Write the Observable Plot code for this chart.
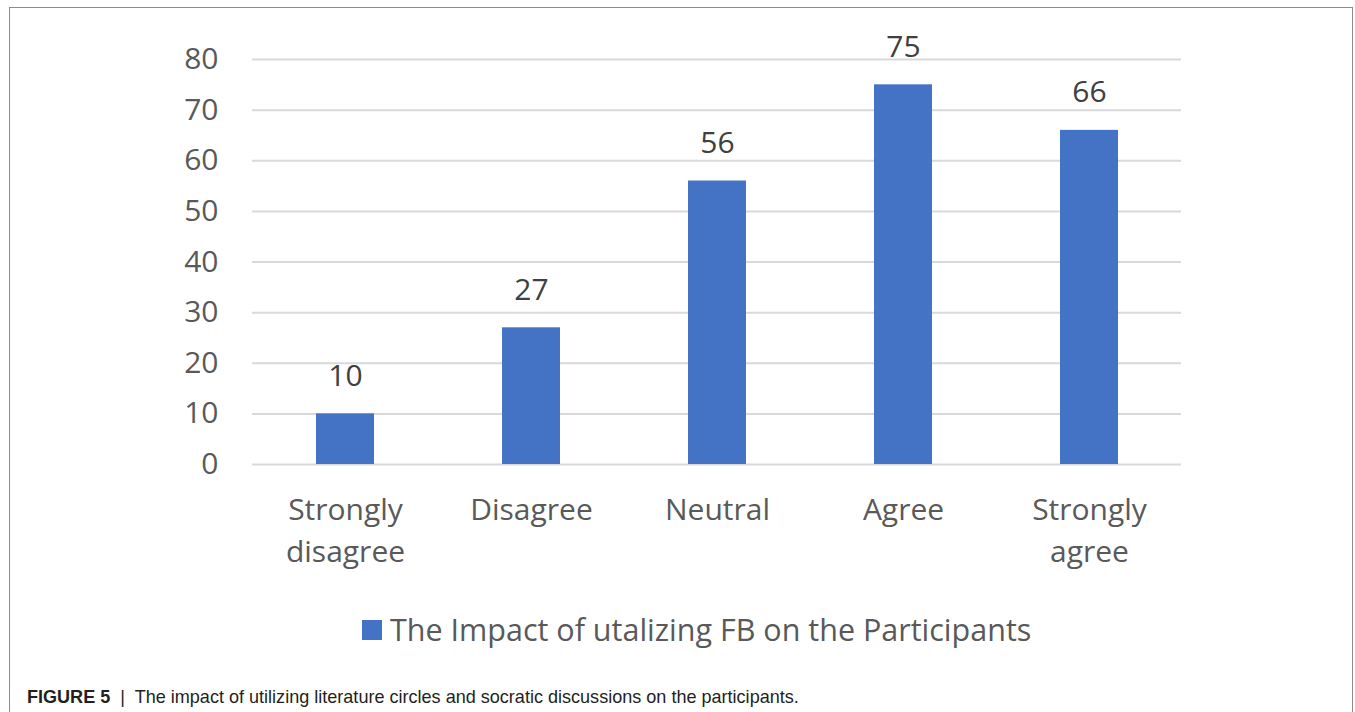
<!DOCTYPE html>
<html>
<head>
<meta charset="utf-8">
<script src="https://cdn.jsdelivr.net/npm/d3@7"></script>
<script src="https://cdn.jsdelivr.net/npm/@observablehq/plot@0.6"></script>
<style>
  html, body { margin: 0; padding: 0; background: #fff; width: 1355px; height: 712px; overflow: hidden; }
  #frame { position: absolute; left: 9px; top: 7px; width: 1344px; height: 760px; border: 1px solid #8c8c8c; box-sizing: border-box; }
  #chart { position: absolute; left: 0; top: 0; }
  #legend { position: absolute; left: 362px; top: 609px; height: 41px; font-family: "Open Sans", sans-serif; font-size: 30.5px; line-height: 41px; color: #595959; white-space: nowrap; }
  #legend .sw { position: absolute; left: 0; top: 11px; width: 20px; height: 20px; background: #4472C4; }
  #legend .lt { position: absolute; left: 28px; top: 0; }
  #caption { position: absolute; left: 27px; top: 686px; font-family: "Liberation Sans Narrow", "Arial Narrow", "Liberation Sans", sans-serif; font-size: 19px; line-height: 22px; color: #231f20; white-space: nowrap; transform: scaleX(0.95); transform-origin: 0 0; }
  #caption b { font-weight: bold; }
</style>
</head>
<body>
<div id="frame"></div>
<div id="chart"></div>
<div id="legend"><span class="sw"></span><span class="lt">The Impact of utalizing FB on the Participants</span></div>
<div id="caption"><b>FIGURE 5</b> &nbsp;|&nbsp; The impact of utilizing literature circles and socratic discussions on the participants.</div>
<script>
const categories = ["Strongly\ndisagree", "Disagree", "Neutral", "Agree", "Strongly\nagree"];
const values = [10, 27, 56, 75, 66];
const yTicks = [0, 10, 20, 30, 40, 50, 60, 70, 80];
const seriesName = "The Impact of utalizing FB on the Participants";

const data = categories.map((c, i) => ({category: c, value: values[i]}));

const chart = Plot.plot({
  width: 1355,
  height: 600,
  marginLeft: 252,
  marginRight: 174,
  marginTop: 59,
  marginBottom: 136,
  style: { fontFamily: "'Open Sans', sans-serif", background: "transparent", overflow: "visible" },
  x: { domain: categories, paddingInner: 0.69, paddingOuter: 0.33, label: null },
  y: { domain: [0, 80], label: null },
  marks: [
    Plot.ruleY(yTicks, { stroke: "#d9d9d9", strokeWidth: 2 }),
    Plot.barY(data, { x: "category", y: "value", fill: "#4472C4" }),
    Plot.text(data, { x: "category", y: "value", text: d => String(d.value), lineAnchor: "bottom", dy: -28, fontSize: 30, fill: "#404040" }),
    Plot.axisY({ ticks: yTicks, tickSize: 0, tickPadding: 34, fontSize: 30, fill: "#595959", label: null }),
    Plot.axisX({ tickSize: 0, tickPadding: 26, fontSize: 30, fill: "#595959", lineHeight: 1.4, label: null })
  ]
});
document.getElementById("chart").appendChild(chart);
</script>
</body>
</html>
